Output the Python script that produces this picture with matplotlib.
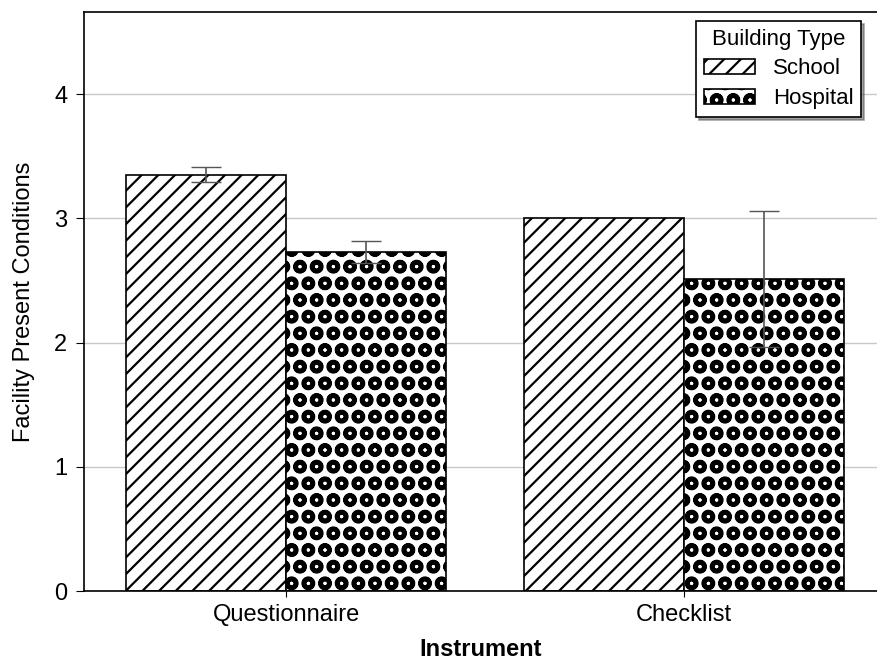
import matplotlib
matplotlib.use('Agg')
import matplotlib.pyplot as plt
import numpy as np

plt.rcParams['font.family'] = ['Liberation Sans', 'DejaVu Sans']
plt.rcParams['hatch.linewidth'] = 1.6

# Data
instruments = ['Questionnaire', 'Checklist']
school_means = [3.35, 3.00]
school_err = [0.06, 0.0]
hospital_means = [2.73, 2.51]
hospital_err = [0.09, 0.55]

fig = plt.figure(figsize=(8.78, 6.61), dpi=100)
ax = fig.add_axes([0.0957, 0.1059, 0.9043, 0.8759])

x = np.arange(len(instruments))
w = 0.402

ax.grid(axis='y', color='#c8c8c8', linewidth=1)
ax.set_axisbelow(True)

ax.bar(x - w / 2, school_means, w, color='white', edgecolor='black',
       hatch='//', linewidth=1.2, label='School')
ax.bar(x + w / 2, hospital_means, w, color='white', edgecolor='black',
       hatch='Oo', linewidth=1.2, label='Hospital')

# only the questionnaire school bar has a visible error bar
ax.errorbar(x[:1] - w / 2, school_means[:1], yerr=school_err[:1], fmt='none',
            ecolor='#555555', capsize=11, elinewidth=1.2)
ax.errorbar(x + w / 2, hospital_means, yerr=hospital_err, fmt='none',
            ecolor='#555555', capsize=11, elinewidth=1.2)

ax.set_xlim(-0.508, 1.487)
ax.set_ylim(0, 4.66)
ax.set_yticks([0, 1, 2, 3, 4])
ax.set_xticks(x)
ax.set_xticklabels(instruments)
ax.tick_params(axis='both', labelsize=17, colors='black')
ax.tick_params(axis='x', length=4, pad=5)
ax.tick_params(axis='y', length=6, pad=6)

ax.spines['right'].set_visible(False)
for s in ['left', 'bottom', 'top']:
    ax.spines[s].set_linewidth(1.2)

ax.set_xlabel('Instrument', fontsize=17, fontweight='bold', labelpad=9)
ax.set_ylabel('Facility Present Conditions', fontsize=17, labelpad=14)

leg = ax.legend(title='Building Type', loc='upper right', fontsize=16,
                title_fontsize=16, fancybox=False, shadow=True, frameon=True,
                edgecolor='black', framealpha=1, borderpad=0.35,
                labelspacing=0.4, handletextpad=0.8,
                handlelength=2.3, handleheight=0.7, bbox_to_anchor=(0.993, 1.004))
leg.get_frame().set_linewidth(1.2)

fig.savefig('out.png', dpi=100)
